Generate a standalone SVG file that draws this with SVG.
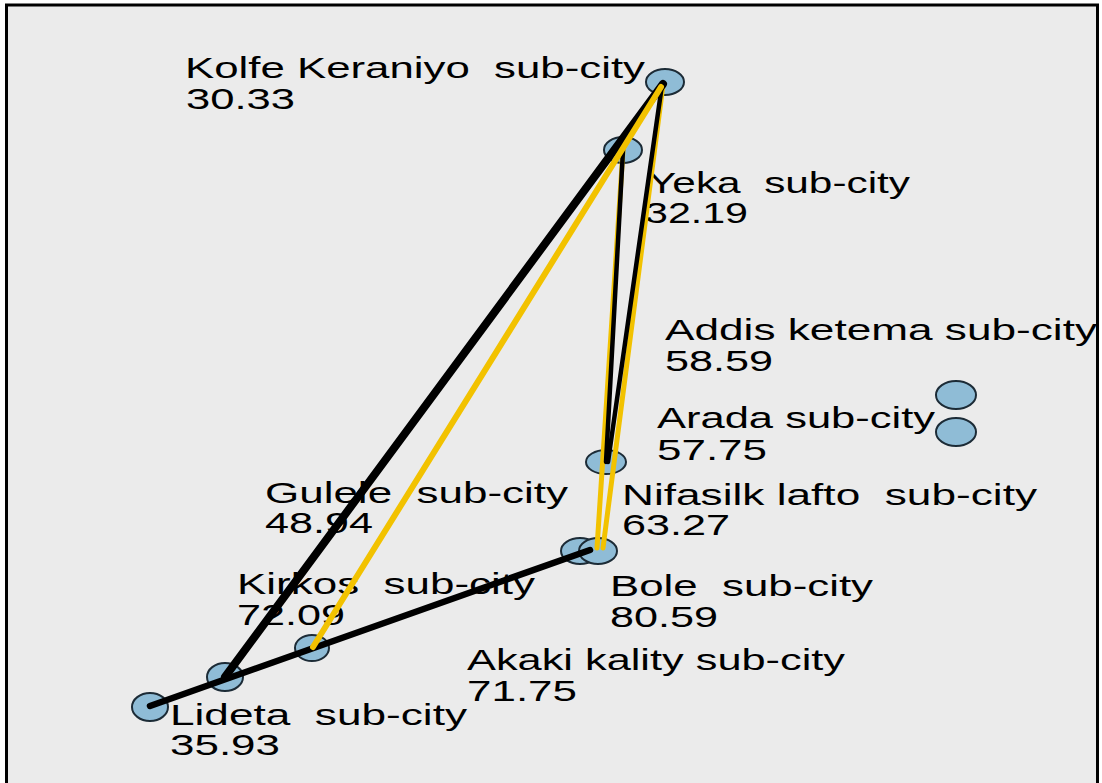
<svg xmlns="http://www.w3.org/2000/svg" width="1102" height="783" viewBox="0 0 1102 783">
<style>
.node{fill:#8fbcd6;stroke:#1c2b36;stroke-width:2}
.lbl{font-family:"Liberation Sans",Arial,sans-serif;font-size:30px;fill:#000;white-space:pre}
.blk{stroke:#000;fill:none;stroke-linecap:round}
.yel{stroke:#f2c200;fill:none;stroke-linecap:round}
</style>
<rect x="0" y="0" width="1102" height="783" fill="#ffffff"/>
<rect x="6.5" y="5" width="1091" height="790" fill="#ebebeb" stroke="#000" stroke-width="3"/>
<g id="nodes">
<g id="kolfe"><ellipse class="node" cx="665" cy="82" rx="19" ry="13"/>
<text class="lbl" xml:space="preserve" x="185" y="78" textLength="460" lengthAdjust="spacingAndGlyphs">Kolfe Keraniyo  sub-city</text>
<text class="lbl" x="186" y="109" textLength="109" lengthAdjust="spacingAndGlyphs">30.33</text></g>
<g id="yeka"><ellipse class="node" cx="623" cy="150" rx="19" ry="13"/>
<text class="lbl" xml:space="preserve" x="648" y="193" textLength="262" lengthAdjust="spacingAndGlyphs">Yeka  sub-city</text>
<text class="lbl" x="645" y="223" textLength="103" lengthAdjust="spacingAndGlyphs">32.19</text></g>
<g id="addis"><ellipse class="node" cx="956" cy="395" rx="20" ry="14"/>
<text class="lbl" x="665" y="340" textLength="432" lengthAdjust="spacingAndGlyphs">Addis ketema sub-city</text>
<text class="lbl" x="665" y="371" textLength="108" lengthAdjust="spacingAndGlyphs">58.59</text></g>
<g id="arada"><ellipse class="node" cx="956" cy="432" rx="20" ry="14"/>
<text class="lbl" x="657" y="428" textLength="278" lengthAdjust="spacingAndGlyphs">Arada sub-city</text>
<text class="lbl" x="657" y="460" textLength="110" lengthAdjust="spacingAndGlyphs">57.75</text></g>
<g id="nifasilk"><ellipse class="node" cx="606" cy="462" rx="20" ry="12"/>
<text class="lbl" xml:space="preserve" x="622" y="505" textLength="415" lengthAdjust="spacingAndGlyphs">Nifasilk lafto  sub-city</text>
<text class="lbl" x="622" y="535" textLength="108" lengthAdjust="spacingAndGlyphs">63.27</text></g>
<g id="bole"><ellipse class="node" cx="580" cy="551" rx="19" ry="13"/><ellipse class="node" cx="598" cy="551" rx="19" ry="13"/>
<text class="lbl" xml:space="preserve" x="610" y="596" textLength="263" lengthAdjust="spacingAndGlyphs">Bole  sub-city</text>
<text class="lbl" x="610" y="627" textLength="108" lengthAdjust="spacingAndGlyphs">80.59</text></g>
<g id="gulele"><ellipse class="node" cx="312" cy="648" rx="17" ry="13"/>
<text class="lbl" xml:space="preserve" x="265" y="503" textLength="303" lengthAdjust="spacingAndGlyphs">Gulele  sub-city</text>
<text class="lbl" x="265" y="533" textLength="108" lengthAdjust="spacingAndGlyphs">48.94</text></g>
<g id="kirkos"><ellipse class="node" cx="225" cy="677" rx="18" ry="14"/>
<text class="lbl" xml:space="preserve" x="237" y="594" textLength="298" lengthAdjust="spacingAndGlyphs">Kirkos  sub-city</text>
<text class="lbl" x="237" y="625" textLength="108" lengthAdjust="spacingAndGlyphs">72.09</text></g>
<g id="akaki">
<text class="lbl" x="467" y="670" textLength="378" lengthAdjust="spacingAndGlyphs">Akaki kality sub-city</text>
<text class="lbl" x="467" y="701" textLength="110" lengthAdjust="spacingAndGlyphs">71.75</text></g>
<g id="lideta"><ellipse class="node" cx="150" cy="707" rx="18" ry="14"/>
<text class="lbl" xml:space="preserve" x="170" y="725" textLength="297" lengthAdjust="spacingAndGlyphs">Lideta  sub-city</text>
<text class="lbl" x="170" y="755" textLength="110" lengthAdjust="spacingAndGlyphs">35.93</text></g>
</g>
<g id="connectors">
<line class="yel" x1="623" y1="150" x2="597" y2="548" stroke-width="5"/>
<line class="yel" x1="663" y1="85" x2="603" y2="548" stroke-width="5"/>
<line class="blk" x1="623" y1="150" x2="606" y2="462" stroke-width="4.5"/>
<line class="blk" x1="662" y1="85" x2="608" y2="462" stroke-width="4.5"/>
<line class="blk" x1="663" y1="84" x2="225" y2="677" stroke-width="8"/>
<line class="blk" x1="590" y1="550" x2="150" y2="706" stroke-width="6.5"/>
<line class="yel" x1="661" y1="87" x2="313" y2="647" stroke-width="6"/>
</g>
</svg>
